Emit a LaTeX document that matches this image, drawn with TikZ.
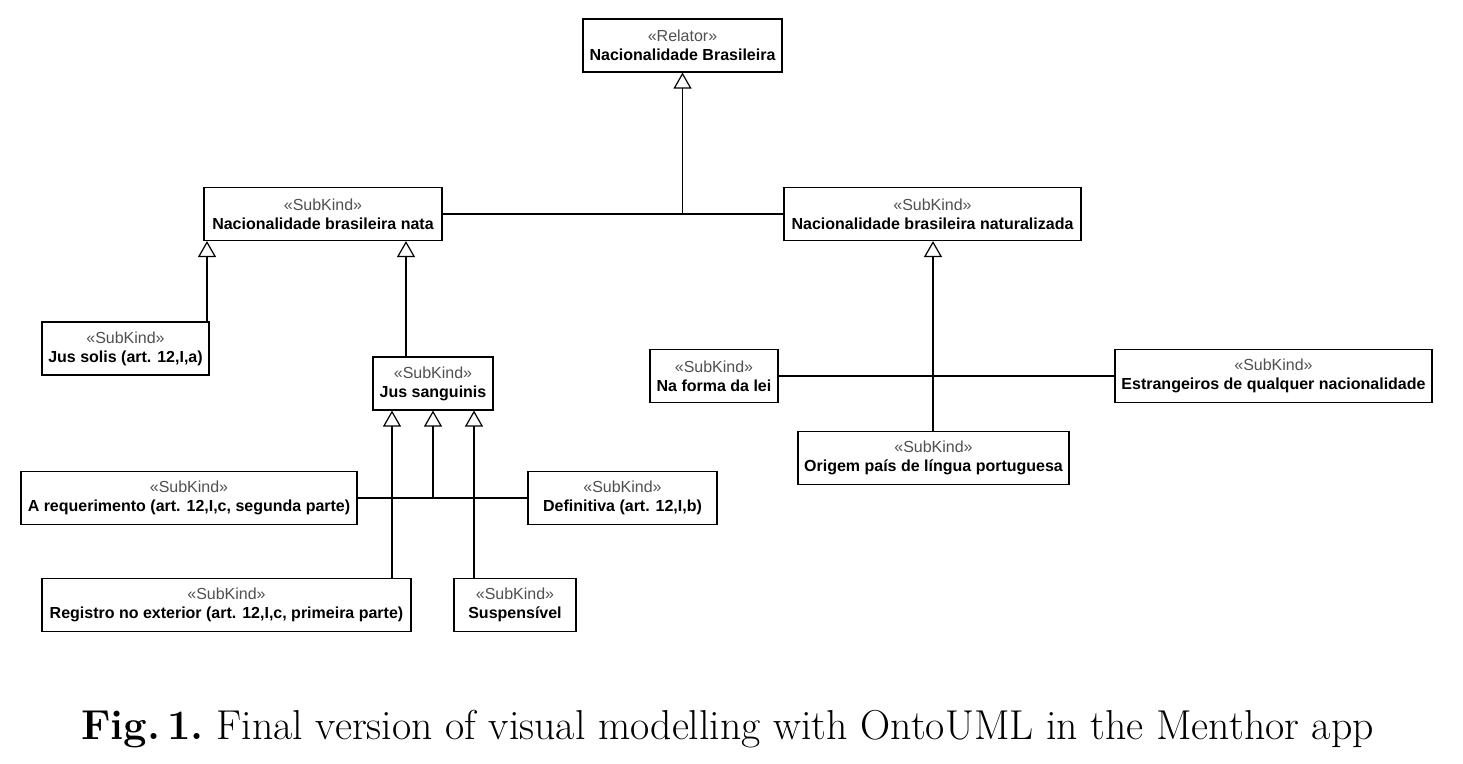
\documentclass[tikz,border=0pt]{standalone}
\usepackage{fontspec}
\newfontfamily\umlfont{Liberation Sans}
\usetikzlibrary{arrows.meta}
\definecolor{stereo}{RGB}{80,80,80}
\newcommand{\stype}[1]{{\mdseries\color{stereo}«#1»}}

\tikzset{
    umlbox/.style={draw, fill=white, line width=0.6pt, inner sep=0pt,
        minimum height=26.5pt, align=center,
        font=\umlfont\bfseries\fontsize{8}{9.5}\selectfont},
    gen/.style={line width=0.6pt, -{Triangle[open,length=8pt,width=9pt]}},
    link/.style={line width=0.6pt}
}

\begin{document}
\begin{tikzpicture}[x=0.5pt,y=-0.5pt]
        \useasboundingbox (0,0) rectangle (1463,764);

        % Classes
        \node[umlbox, minimum width=99.5pt] (rel) at (682.5,45.5) {\stype{Relator}\\Nacionalidade Brasileira};
        \node[umlbox, minimum width=119pt] (nata) at (323,214) {\stype{SubKind}\\Nacionalidade brasileira nata};
        \node[umlbox, minimum width=148.5pt] (natu) at (932.5,214) {\stype{SubKind}\\Nacionalidade brasileira naturalizada};
        \node[umlbox, minimum width=83.5pt] (solis) at (125.5,348.5) {\stype{SubKind}\\Jus solis (art. 12,I,a)};
        \node[umlbox, minimum width=60pt] (sang) at (433,383.5) {\stype{SubKind}\\Jus sanguinis};
        \node[umlbox, minimum width=168pt] (req) at (189,498) {\stype{SubKind}\\A requerimento (art. 12,I,c, segunda parte)};
        \node[umlbox, minimum width=94.5pt] (defi) at (622.5,498) {\stype{SubKind}\\Definitiva (art. 12,I,b)};
        \node[umlbox, minimum width=184.5pt] (regi) at (226.5,605) {\stype{SubKind}\\Registro no exterior (art. 12,I,c, primeira parte)};
        \node[umlbox, minimum width=61pt] (susp) at (515,605) {\stype{SubKind}\\Suspensível};
        \node[umlbox, minimum width=64pt] (lei) at (714,376) {\stype{SubKind}\\Na forma da lei};
        \node[umlbox, minimum width=158.5pt] (estr) at (1273.5,376) {\stype{SubKind}\\Estrangeiros de qualquer nacionalidade};
        \node[umlbox, minimum width=135.5pt] (orig) at (933.5,458) {\stype{SubKind}\\Origem país de língua portuguesa};

        % Generalizations to the relator
        \draw[link] (nata) -- (natu);
        \draw[gen] (rel.south |- nata.east) -- (rel.south);

        % Nata
        \draw[gen] (solis.north -| 207,0) -- (nata.south -| 207,0);
        \draw[gen] (sang.north -| 406,0) -- (nata.south -| 406,0);

        % Jus sanguinis
        \draw[link] (req) -- (defi);
        \draw[gen] (sang.south |- req.east) -- (sang.south);
        \draw[gen] (regi.north -| 392,0) -- (sang.south -| 392,0);
        \draw[gen] (susp.north -| 474,0) -- (sang.south -| 474,0);

        % Naturalizada
        \draw[link] (lei) -- (estr);
        \draw[gen] (orig.north -| 933,0) -- (natu.south -| 933,0);

        \node[anchor=base, font=\fontsize{20.9}{24}\selectfont\frenchspacing] (caption) at (727.5,740) {\textbf{Fig.\,1.} Final version of visual modelling with OntoUML in the Menthor app};
    \end{tikzpicture}
\end{document}
